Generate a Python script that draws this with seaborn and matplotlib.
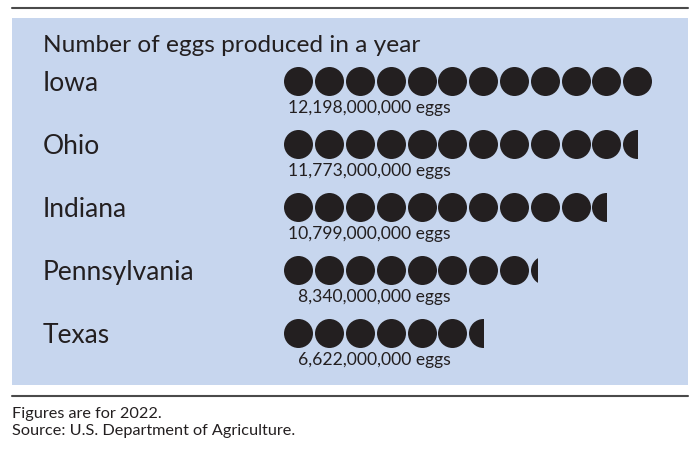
import matplotlib
matplotlib.use("Agg")
import matplotlib.pyplot as plt
import matplotlib.transforms as mtransforms
from matplotlib.patches import Rectangle
from matplotlib.lines import Line2D
import seaborn as sns
import pandas as pd

# ---- data ----
states = ["Iowa", "Ohio", "Indiana", "Pennsylvania", "Texas"]
eggs = [12198000000, 11773000000, 10799000000, 8340000000, 6622000000]
# icons drawn per state
icons = [12, 11.5, 10.5, 8.25, 6.5]
title = "Number of eggs produced in a year"
notes = ["Figures are for 2022.", "Source: U.S. Department of Agriculture."]

sns.set_theme(style="white")
plt.rcParams["font.family"] = ["Lato", "DejaVu Sans"]

W, H = 700, 455
INK = "#231f20"
PANEL = "#c7d6ee"
RULE = "#4a4a4a"

fig = plt.figure(figsize=(W / 100, H / 100), dpi=100)
fig.patch.set_facecolor("white")

# panel axes (pixel layout)
pl, pr, pt, pb = 12, 688, 18, 385
ax = fig.add_axes([pl / W, 1 - pb / H, (pr - pl) / W, (pb - pt) / H])
ax.set_facecolor(PANEL)
for s in ax.spines.values():
    s.set_visible(False)

U = 30.8          # px per icon
X0 = 283          # px where icons start
ROW = 63          # px per row
Y0 = 81           # px centre of first row
ax.set_xlim((pl - X0) / U, (pr - X0) / U)
ax.set_ylim((pb - Y0) / ROW, (pt - Y0) / ROW)

# full icons
rows = []
for r, n in enumerate(icons):
    for i in range(int(n)):
        rows.append({"x": i + 0.5, "y": r})
df = pd.DataFrame(rows)
msize = (29 * 72 / 100) ** 2
sns.scatterplot(data=df, x="x", y="y", s=msize, color=INK, linewidth=0,
                marker="o", legend=False, ax=ax)

# partial icons
for r, n in enumerate(icons):
    frac = n - int(n)
    if frac > 0:
        sns.scatterplot(x=[int(n) + 0.5], y=[r], s=msize, color=INK,
                        linewidth=0, marker="o", legend=False, ax=ax)
        clip = Rectangle((int(n), r - 0.5), frac, 1.0, transform=ax.transData)
        ax.collections[-1].set_clip_path(clip)

ax.set_xlabel("")
ax.set_ylabel("")
ax.set_xticks([])
ax.set_yticks([])

trans = mtransforms.blended_transform_factory(fig.transFigure, ax.transData)
for r, (st, v) in enumerate(zip(states, eggs)):
    ax.text(43 / W, r + 10 / ROW, st, transform=trans, fontsize=19,
            color=INK, ha="left", va="baseline")
    ax.text((451 - X0) / U, r + 32 / ROW, f"{v:,} eggs", fontsize=12.6,
            color=INK, ha="right", va="baseline")

fig.text(43 / W, 1 - 52.5 / H, title, fontsize=17.6, color=INK,
         ha="left", va="baseline")

fig.text(12 / W, 1 - 417.7 / H, notes[0], fontsize=11.7, color=INK,
         ha="left", va="baseline")
fig.text(12 / W, 1 - 434.5 / H, notes[1], fontsize=11.7, color=INK,
         ha="left", va="baseline")

for yy in (7.7, 395.5):
    fig.add_artist(Line2D([pl / W, pr / W], [1 - yy / H] * 2,
                          transform=fig.transFigure, lw=1.5, color=RULE))

fig.savefig("out.png", dpi=100)
